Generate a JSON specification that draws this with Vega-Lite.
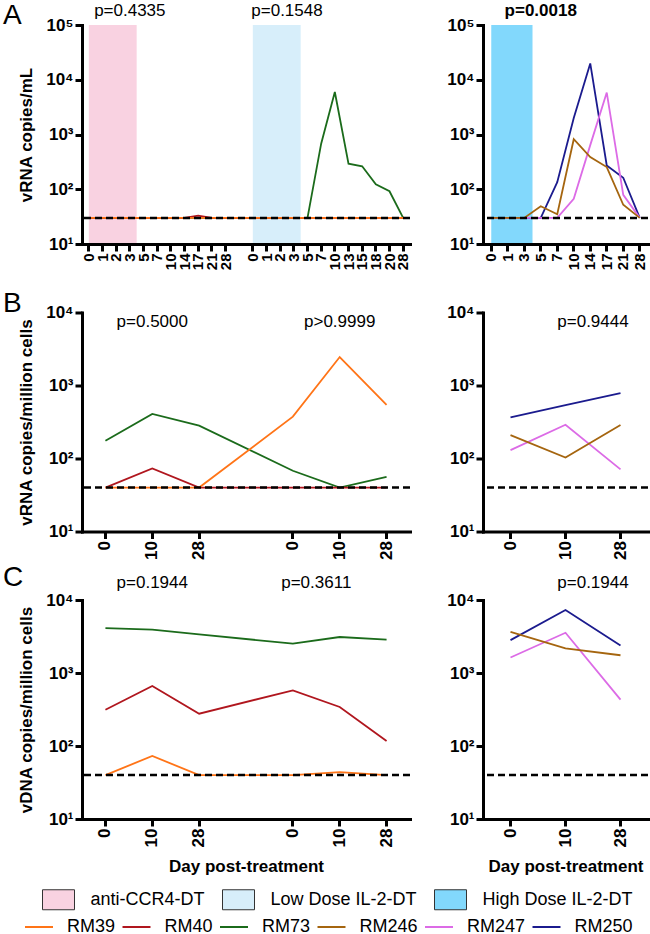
{
  "$schema": "https://vega.github.io/schema/vega-lite/v6.json",
  "padding": {"left": 3, "top": 2, "right": 0, "bottom": 0},
  "background": "white",
  "config": {
    "view": {"stroke": null},
    "font": "Liberation Sans",
    "axis": {"domainColor": "black", "domainWidth": 3, "domainCap": "square", "tickColor": "black", "tickWidth": 3, "tickSize": 7, "grid": false, "labelColor": "black", "labelFont": "Liberation Sans", "labelFontWeight": "bold", "labelPadding": 2, "labelOverlap": false, "titleFont": "Liberation Sans", "titleFontWeight": "bold", "titleFontSize": 17, "titleColor": "black"},
    "axisX": {"labelAngle": -90, "labelFontSize": 17, "titlePadding": 12},
    "axisY": {"labelFontSize": 17, "titlePadding": 10},
    "legend": {"labelFont": "Liberation Sans", "labelColor": "black", "labelFontSize": 18},
    "text": {"font": "Liberation Sans", "fontSize": 17, "color": "black", "align": "center", "baseline": "middle"}
  },
  "datasets": {
    "plasma": [
      {"panel": "left", "x": "CCR4 0", "animal": "RM73", "v": 30},
      {"panel": "left", "x": "CCR4 1", "animal": "RM73", "v": 30},
      {"panel": "left", "x": "CCR4 2", "animal": "RM73", "v": 30},
      {"panel": "left", "x": "CCR4 3", "animal": "RM73", "v": 30},
      {"panel": "left", "x": "CCR4 5", "animal": "RM73", "v": 30},
      {"panel": "left", "x": "CCR4 7", "animal": "RM73", "v": 30},
      {"panel": "left", "x": "CCR4 10", "animal": "RM73", "v": 30},
      {"panel": "left", "x": "CCR4 14", "animal": "RM73", "v": 30},
      {"panel": "left", "x": "CCR4 17", "animal": "RM73", "v": 30},
      {"panel": "left", "x": "CCR4 21", "animal": "RM73", "v": 30},
      {"panel": "left", "x": "CCR4 28", "animal": "RM73", "v": 30},
      {"panel": "left", "x": "LD 0", "animal": "RM73", "v": 30},
      {"panel": "left", "x": "LD 1", "animal": "RM73", "v": 30},
      {"panel": "left", "x": "LD 2", "animal": "RM73", "v": 30},
      {"panel": "left", "x": "LD 3", "animal": "RM73", "v": 30},
      {"panel": "left", "x": "LD 5", "animal": "RM73", "v": 30},
      {"panel": "left", "x": "LD 7", "animal": "RM73", "v": 680},
      {"panel": "left", "x": "LD 10", "animal": "RM73", "v": 5970},
      {"panel": "left", "x": "LD 13", "animal": "RM73", "v": 293},
      {"panel": "left", "x": "LD 15", "animal": "RM73", "v": 263},
      {"panel": "left", "x": "LD 18", "animal": "RM73", "v": 123},
      {"panel": "left", "x": "LD 20", "animal": "RM73", "v": 92},
      {"panel": "left", "x": "LD 28", "animal": "RM73", "v": 30},
      {"panel": "left", "x": "CCR4 0", "animal": "RM40", "v": 30},
      {"panel": "left", "x": "CCR4 1", "animal": "RM40", "v": 30},
      {"panel": "left", "x": "CCR4 2", "animal": "RM40", "v": 30},
      {"panel": "left", "x": "CCR4 3", "animal": "RM40", "v": 30},
      {"panel": "left", "x": "CCR4 5", "animal": "RM40", "v": 30},
      {"panel": "left", "x": "CCR4 7", "animal": "RM40", "v": 30},
      {"panel": "left", "x": "CCR4 10", "animal": "RM40", "v": 30},
      {"panel": "left", "x": "CCR4 14", "animal": "RM40", "v": 30},
      {"panel": "left", "x": "CCR4 17", "animal": "RM40", "v": 33},
      {"panel": "left", "x": "CCR4 21", "animal": "RM40", "v": 30},
      {"panel": "left", "x": "CCR4 28", "animal": "RM40", "v": 30},
      {"panel": "left", "x": "LD 0", "animal": "RM40", "v": 30},
      {"panel": "left", "x": "LD 1", "animal": "RM40", "v": 30},
      {"panel": "left", "x": "LD 2", "animal": "RM40", "v": 30},
      {"panel": "left", "x": "LD 3", "animal": "RM40", "v": 30},
      {"panel": "left", "x": "LD 5", "animal": "RM40", "v": 30},
      {"panel": "left", "x": "LD 7", "animal": "RM40", "v": 30},
      {"panel": "left", "x": "LD 10", "animal": "RM40", "v": 30},
      {"panel": "left", "x": "LD 13", "animal": "RM40", "v": 30},
      {"panel": "left", "x": "LD 15", "animal": "RM40", "v": 30},
      {"panel": "left", "x": "LD 18", "animal": "RM40", "v": 30},
      {"panel": "left", "x": "LD 20", "animal": "RM40", "v": 30},
      {"panel": "left", "x": "LD 28", "animal": "RM40", "v": 30},
      {"panel": "left", "x": "CCR4 0", "animal": "RM39", "v": 30},
      {"panel": "left", "x": "CCR4 1", "animal": "RM39", "v": 30},
      {"panel": "left", "x": "CCR4 2", "animal": "RM39", "v": 30},
      {"panel": "left", "x": "CCR4 3", "animal": "RM39", "v": 30},
      {"panel": "left", "x": "CCR4 5", "animal": "RM39", "v": 30},
      {"panel": "left", "x": "CCR4 7", "animal": "RM39", "v": 30},
      {"panel": "left", "x": "CCR4 10", "animal": "RM39", "v": 30},
      {"panel": "left", "x": "CCR4 14", "animal": "RM39", "v": 30},
      {"panel": "left", "x": "CCR4 17", "animal": "RM39", "v": 30},
      {"panel": "left", "x": "CCR4 21", "animal": "RM39", "v": 30},
      {"panel": "left", "x": "CCR4 28", "animal": "RM39", "v": 30},
      {"panel": "left", "x": "LD 0", "animal": "RM39", "v": 30},
      {"panel": "left", "x": "LD 1", "animal": "RM39", "v": 30},
      {"panel": "left", "x": "LD 2", "animal": "RM39", "v": 30},
      {"panel": "left", "x": "LD 3", "animal": "RM39", "v": 30},
      {"panel": "left", "x": "LD 5", "animal": "RM39", "v": 30},
      {"panel": "left", "x": "LD 7", "animal": "RM39", "v": 30},
      {"panel": "left", "x": "LD 10", "animal": "RM39", "v": 30},
      {"panel": "left", "x": "LD 13", "animal": "RM39", "v": 30},
      {"panel": "left", "x": "LD 15", "animal": "RM39", "v": 30},
      {"panel": "left", "x": "LD 18", "animal": "RM39", "v": 30},
      {"panel": "left", "x": "LD 20", "animal": "RM39", "v": 30},
      {"panel": "left", "x": "LD 28", "animal": "RM39", "v": 30},
      {"panel": "right", "x": "0", "animal": "RM250", "v": 30},
      {"panel": "right", "x": "1", "animal": "RM250", "v": 30},
      {"panel": "right", "x": "3", "animal": "RM250", "v": 30},
      {"panel": "right", "x": "5", "animal": "RM250", "v": 30},
      {"panel": "right", "x": "7", "animal": "RM250", "v": 135},
      {"panel": "right", "x": "10", "animal": "RM250", "v": 2000},
      {"panel": "right", "x": "14", "animal": "RM250", "v": 19900},
      {"panel": "right", "x": "17", "animal": "RM250", "v": 272},
      {"panel": "right", "x": "21", "animal": "RM250", "v": 162},
      {"panel": "right", "x": "28", "animal": "RM250", "v": 30},
      {"panel": "right", "x": "0", "animal": "RM247", "v": 30},
      {"panel": "right", "x": "1", "animal": "RM247", "v": 30},
      {"panel": "right", "x": "3", "animal": "RM247", "v": 30},
      {"panel": "right", "x": "5", "animal": "RM247", "v": 30},
      {"panel": "right", "x": "7", "animal": "RM247", "v": 30},
      {"panel": "right", "x": "10", "animal": "RM247", "v": 67},
      {"panel": "right", "x": "14", "animal": "RM247", "v": 640},
      {"panel": "right", "x": "17", "animal": "RM247", "v": 5840},
      {"panel": "right", "x": "21", "animal": "RM247", "v": 79},
      {"panel": "right", "x": "28", "animal": "RM247", "v": 30},
      {"panel": "right", "x": "0", "animal": "RM246", "v": 30},
      {"panel": "right", "x": "1", "animal": "RM246", "v": 30},
      {"panel": "right", "x": "3", "animal": "RM246", "v": 30},
      {"panel": "right", "x": "5", "animal": "RM246", "v": 49},
      {"panel": "right", "x": "7", "animal": "RM246", "v": 35},
      {"panel": "right", "x": "10", "animal": "RM246", "v": 820},
      {"panel": "right", "x": "14", "animal": "RM246", "v": 388},
      {"panel": "right", "x": "17", "animal": "RM246", "v": 254},
      {"panel": "right", "x": "21", "animal": "RM246", "v": 52},
      {"panel": "right", "x": "28", "animal": "RM246", "v": 30}
    ],
    "cellRNA": [
      {"panel": "left", "x": "CCR4 0", "animal": "RM73", "v": 175},
      {"panel": "left", "x": "CCR4 10", "animal": "RM73", "v": 407},
      {"panel": "left", "x": "CCR4 28", "animal": "RM73", "v": 282},
      {"panel": "left", "x": "LD 0", "animal": "RM73", "v": 68},
      {"panel": "left", "x": "LD 10", "animal": "RM73", "v": 40},
      {"panel": "left", "x": "LD 28", "animal": "RM73", "v": 56},
      {"panel": "left", "x": "CCR4 0", "animal": "RM40", "v": 40},
      {"panel": "left", "x": "CCR4 10", "animal": "RM40", "v": 73},
      {"panel": "left", "x": "CCR4 28", "animal": "RM40", "v": 40},
      {"panel": "left", "x": "LD 0", "animal": "RM40", "v": 40},
      {"panel": "left", "x": "LD 10", "animal": "RM40", "v": 40},
      {"panel": "left", "x": "LD 28", "animal": "RM40", "v": 40},
      {"panel": "left", "x": "CCR4 0", "animal": "RM39", "v": 40},
      {"panel": "left", "x": "CCR4 10", "animal": "RM39", "v": 40},
      {"panel": "left", "x": "CCR4 28", "animal": "RM39", "v": 40},
      {"panel": "left", "x": "LD 0", "animal": "RM39", "v": 374},
      {"panel": "left", "x": "LD 10", "animal": "RM39", "v": 2455},
      {"panel": "left", "x": "LD 28", "animal": "RM39", "v": 542},
      {"panel": "right", "x": "0", "animal": "RM250", "v": 367},
      {"panel": "right", "x": "10", "animal": "RM250", "v": 540},
      {"panel": "right", "x": "28", "animal": "RM250", "v": 785},
      {"panel": "right", "x": "0", "animal": "RM247", "v": 130},
      {"panel": "right", "x": "10", "animal": "RM247", "v": 290},
      {"panel": "right", "x": "28", "animal": "RM247", "v": 71},
      {"panel": "right", "x": "0", "animal": "RM246", "v": 209},
      {"panel": "right", "x": "10", "animal": "RM246", "v": 103},
      {"panel": "right", "x": "28", "animal": "RM246", "v": 288}
    ],
    "cellDNA": [
      {"panel": "left", "x": "CCR4 0", "animal": "RM73", "v": 4130},
      {"panel": "left", "x": "CCR4 10", "animal": "RM73", "v": 3930},
      {"panel": "left", "x": "CCR4 28", "animal": "RM73", "v": 3390},
      {"panel": "left", "x": "LD 0", "animal": "RM73", "v": 2520},
      {"panel": "left", "x": "LD 10", "animal": "RM73", "v": 3110},
      {"panel": "left", "x": "LD 28", "animal": "RM73", "v": 2860},
      {"panel": "left", "x": "CCR4 0", "animal": "RM40", "v": 314},
      {"panel": "left", "x": "CCR4 10", "animal": "RM40", "v": 664},
      {"panel": "left", "x": "CCR4 28", "animal": "RM40", "v": 277},
      {"panel": "left", "x": "LD 0", "animal": "RM40", "v": 579},
      {"panel": "left", "x": "LD 10", "animal": "RM40", "v": 342},
      {"panel": "left", "x": "LD 28", "animal": "RM40", "v": 117},
      {"panel": "left", "x": "CCR4 0", "animal": "RM39", "v": 40},
      {"panel": "left", "x": "CCR4 10", "animal": "RM39", "v": 73},
      {"panel": "left", "x": "CCR4 28", "animal": "RM39", "v": 40},
      {"panel": "left", "x": "LD 0", "animal": "RM39", "v": 40},
      {"panel": "left", "x": "LD 10", "animal": "RM39", "v": 44},
      {"panel": "left", "x": "LD 28", "animal": "RM39", "v": 40},
      {"panel": "right", "x": "0", "animal": "RM250", "v": 2820},
      {"panel": "right", "x": "10", "animal": "RM250", "v": 7290},
      {"panel": "right", "x": "28", "animal": "RM250", "v": 2380},
      {"panel": "right", "x": "0", "animal": "RM247", "v": 1630},
      {"panel": "right", "x": "10", "animal": "RM247", "v": 3560},
      {"panel": "right", "x": "28", "animal": "RM247", "v": 431},
      {"panel": "right", "x": "0", "animal": "RM246", "v": 3670},
      {"panel": "right", "x": "10", "animal": "RM246", "v": 2170},
      {"panel": "right", "x": "28", "animal": "RM246", "v": 1750}
    ]
  },
  "columns": 2,
  "spacing": {"row": 68.5, "column": 73},
  "bounds": "flush",
  "resolve": {"scale": {"stroke": "shared", "fill": "shared"}, "legend": {"stroke": "shared", "fill": "shared"}},
  "concat": [
    {
      "width": 328, "height": 219,
      "title": {"text": "A", "anchor": "start", "frame": "group", "dx": -79, "offset": -56, "baseline": "bottom", "fontSize": 28, "fontWeight": "normal", "font": "Liberation Sans", "color": "black"},
      "layer": [
        {
          "data": {"values": [{"treatment": "anti-CCR4-DT", "from": "CCR4 0", "to": "CCR4 3"}, {"treatment": "Low Dose IL-2-DT", "from": "LD 0", "to": "LD 3"}]},
          "mark": {"type": "rect"},
          "encoding": {
            "x": {"field": "from", "type": "nominal", "bandPosition": 0.5,
              "scale": {"type": "band", "paddingInner": 0, "paddingOuter": 0, "domain": ["CCR4 0", "CCR4 1", "CCR4 2", "CCR4 3", "CCR4 5", "CCR4 7", "CCR4 10", "CCR4 14", "CCR4 17", "CCR4 21", "CCR4 28", "gap", "LD 0", "LD 1", "LD 2", "LD 3", "LD 5", "LD 7", "LD 10", "LD 13", "LD 15", "LD 18", "LD 20", "LD 28"]},
              "axis": {"values": ["CCR4 0", "CCR4 1", "CCR4 2", "CCR4 3", "CCR4 5", "CCR4 7", "CCR4 10", "CCR4 14", "CCR4 17", "CCR4 21", "CCR4 28", "LD 0", "LD 1", "LD 2", "LD 3", "LD 5", "LD 7", "LD 10", "LD 13", "LD 15", "LD 18", "LD 20", "LD 28"], "labelExpr": "split(datum.value, ' ')[1]", "title": null, "labelFontSize": 15}},
            "x2": {"field": "to", "bandPosition": 1},
            "fill": {"field": "treatment", "type": "nominal",
              "scale": {"domain": ["anti-CCR4-DT", "Low Dose IL-2-DT", "High Dose IL-2-DT"], "range": ["#F9D2E1", "#D7EEFA", "#82D8FC"]},
              "legend": {"title": null, "orient": "none", "legendX": -34, "legendY": 864, "direction": "horizontal", "columns": 3, "symbolType": "M-1.6,-1H1.6V1H-1.6Z", "symbolSize": 400, "symbolStrokeColor": "#333333", "symbolStrokeWidth": 1, "symbolOpacity": 1, "labelFontSize": 18, "labelOffset": 21.5, "columnPadding": 15}}
          }
        },
        {
          "data": {"name": "plasma"},
          "transform": [{"filter": "datum.panel === 'left'"}],
          "mark": {"type": "line", "strokeWidth": 1.8},
          "encoding": {
            "x": {"field": "x", "type": "nominal", "bandPosition": 0.5},
            "y": {"field": "v", "type": "quantitative", "scale": {"type": "log", "domain": [10, 100000], "nice": false},
              "axis": {"values": [10, 100, 1000, 10000, 100000], "labelExpr": "'10' + ['⁰','¹','²','³','⁴','⁵'][round(log(datum.value)/LN10)]", "title": "vRNA copies/mL"}},
            "stroke": {"field": "animal", "type": "nominal",
              "scale": {"domain": ["RM39", "RM40", "RM73", "RM246", "RM247", "RM250"], "range": ["#FF7417", "#B0161E", "#1B6B1B", "#A5650F", "#DC6BE6", "#1B1B8E"]},
              "legend": {"title": null, "orient": "none", "legendX": -58, "legendY": 887, "direction": "horizontal", "columns": 6, "symbolType": "stroke", "symbolSize": 784, "symbolStrokeWidth": 2, "labelFontSize": 18, "labelOffset": 13, "columnPadding": 2.5}},
            "order": {"value": null}
          }
        },
        {
          "data": {"values": [{"lod": 30}]},
          "mark": {"type": "rule", "color": "black", "strokeWidth": 2.5, "strokeDash": [7, 4]},
          "encoding": {"y": {"field": "lod", "type": "quantitative"}}
        },
        {
          "data": {"values": [{"label": "p=0.4335", "at": "CCR4 3"}]},
          "mark": {"type": "text"},
          "encoding": {"x": {"field": "at", "type": "nominal", "bandPosition": 0.5}, "y": {"datum": 180000, "type": "quantitative"}, "text": {"field": "label"}}
        },
        {
          "data": {"values": [{"label": "p=0.1548", "at": "LD 2"}]},
          "mark": {"type": "text"},
          "encoding": {"x": {"field": "at", "type": "nominal", "bandPosition": 1}, "y": {"datum": 180000, "type": "quantitative"}, "text": {"field": "label"}}
        }
      ]
    },
    {
      "width": 165, "height": 219,
      "layer": [
        {
          "data": {"values": [{"treatment": "High Dose IL-2-DT", "from": "0", "to": "3"}]},
          "mark": {"type": "rect"},
          "encoding": {
            "x": {"field": "from", "type": "nominal", "bandPosition": 0.5,
              "scale": {"type": "band", "paddingInner": 0, "paddingOuter": 0, "domain": ["0", "1", "3", "5", "7", "10", "14", "17", "21", "28"]},
              "axis": {"title": null, "labelFontSize": 15}},
            "x2": {"field": "to", "bandPosition": 1},
            "fill": {"field": "treatment", "type": "nominal",
              "scale": {"domain": ["anti-CCR4-DT", "Low Dose IL-2-DT", "High Dose IL-2-DT"], "range": ["#F9D2E1", "#D7EEFA", "#82D8FC"]},
              "legend": {"title": null, "orient": "none", "legendX": -34, "legendY": 864, "direction": "horizontal", "columns": 3, "symbolType": "M-1.6,-1H1.6V1H-1.6Z", "symbolSize": 400, "symbolStrokeColor": "#333333", "symbolStrokeWidth": 1, "symbolOpacity": 1, "labelFontSize": 18, "labelOffset": 21.5, "columnPadding": 15}}
          }
        },
        {
          "data": {"name": "plasma"},
          "transform": [{"filter": "datum.panel === 'right'"}],
          "mark": {"type": "line", "strokeWidth": 1.8},
          "encoding": {
            "x": {"field": "x", "type": "nominal", "bandPosition": 0.5},
            "y": {"field": "v", "type": "quantitative", "scale": {"type": "log", "domain": [10, 100000], "nice": false},
              "axis": {"values": [10, 100, 1000, 10000, 100000], "labelExpr": "'10' + ['⁰','¹','²','³','⁴','⁵'][round(log(datum.value)/LN10)]", "title": null}},
            "stroke": {"field": "animal", "type": "nominal",
              "scale": {"domain": ["RM39", "RM40", "RM73", "RM246", "RM247", "RM250"], "range": ["#FF7417", "#B0161E", "#1B6B1B", "#A5650F", "#DC6BE6", "#1B1B8E"]},
              "legend": {"title": null, "orient": "none", "legendX": -58, "legendY": 887, "direction": "horizontal", "columns": 6, "symbolType": "stroke", "symbolSize": 784, "symbolStrokeWidth": 2, "labelFontSize": 18, "labelOffset": 13, "columnPadding": 2.5}},
            "order": {"value": null}
          }
        },
        {
          "data": {"values": [{"lod": 30}]},
          "mark": {"type": "rule", "color": "black", "strokeWidth": 2.5, "strokeDash": [7, 4]},
          "encoding": {"y": {"field": "lod", "type": "quantitative"}}
        },
        {
          "data": {"values": [{"label": "p=0.0018", "at": "5"}]},
          "mark": {"type": "text", "fontWeight": "bold"},
          "encoding": {"x": {"field": "at", "type": "nominal", "bandPosition": 0.5}, "y": {"datum": 180000, "type": "quantitative"}, "text": {"field": "label"}}
        }
      ]
    },
    {
      "width": 328, "height": 219,
      "title": {"text": "B", "anchor": "start", "frame": "group", "dx": -79, "offset": -42.5, "baseline": "bottom", "fontSize": 28, "fontWeight": "normal", "font": "Liberation Sans", "color": "black"},
      "layer": [
        {
          "data": {"name": "cellRNA"},
          "transform": [{"filter": "datum.panel === 'left'"}],
          "mark": {"type": "line", "strokeWidth": 1.8},
          "encoding": {
            "x": {"field": "x", "type": "nominal", "bandPosition": 0.5,
              "scale": {"type": "band", "paddingInner": 0, "paddingOuter": 0, "domain": ["CCR4 0", "CCR4 10", "CCR4 28", "gap", "LD 0", "LD 10", "LD 28"]},
              "axis": {"values": ["CCR4 0", "CCR4 10", "CCR4 28", "LD 0", "LD 10", "LD 28"], "labelExpr": "split(datum.value, ' ')[1]", "title": null}},
            "y": {"field": "v", "type": "quantitative", "scale": {"type": "log", "domain": [10, 10000], "nice": false},
              "axis": {"values": [10, 100, 1000, 10000], "labelExpr": "'10' + ['⁰','¹','²','³','⁴','⁵'][round(log(datum.value)/LN10)]", "title": "vRNA copies/million cells"}},
            "stroke": {"field": "animal", "type": "nominal",
              "scale": {"domain": ["RM39", "RM40", "RM73", "RM246", "RM247", "RM250"], "range": ["#FF7417", "#B0161E", "#1B6B1B", "#A5650F", "#DC6BE6", "#1B1B8E"]},
              "legend": {"title": null, "orient": "none", "legendX": -58, "legendY": 887, "direction": "horizontal", "columns": 6, "symbolType": "stroke", "symbolSize": 784, "symbolStrokeWidth": 2, "labelFontSize": 18, "labelOffset": 13, "columnPadding": 2.5}},
            "order": {"value": null}
          }
        },
        {
          "data": {"values": [{"lod": 40}]},
          "mark": {"type": "rule", "color": "black", "strokeWidth": 2.5, "strokeDash": [7, 4]},
          "encoding": {"y": {"field": "lod", "type": "quantitative"}}
        },
        {
          "data": {"values": [{"label": "p=0.5000", "at": "CCR4 10"}, {"label": "p>0.9999", "at": "LD 10"}]},
          "mark": {"type": "text"},
          "encoding": {"x": {"field": "at", "type": "nominal", "bandPosition": 0.5}, "y": {"datum": 7500, "type": "quantitative"}, "text": {"field": "label"}}
        }
      ]
    },
    {
      "width": 165, "height": 219,
      "layer": [
        {
          "data": {"name": "cellRNA"},
          "transform": [{"filter": "datum.panel === 'right'"}],
          "mark": {"type": "line", "strokeWidth": 1.8},
          "encoding": {
            "x": {"field": "x", "type": "nominal", "bandPosition": 0.5,
              "scale": {"type": "band", "paddingInner": 0, "paddingOuter": 0, "domain": ["0", "10", "28"]},
              "axis": {"title": null}},
            "y": {"field": "v", "type": "quantitative", "scale": {"type": "log", "domain": [10, 10000], "nice": false},
              "axis": {"values": [10, 100, 1000, 10000], "labelExpr": "'10' + ['⁰','¹','²','³','⁴','⁵'][round(log(datum.value)/LN10)]", "title": null}},
            "stroke": {"field": "animal", "type": "nominal",
              "scale": {"domain": ["RM39", "RM40", "RM73", "RM246", "RM247", "RM250"], "range": ["#FF7417", "#B0161E", "#1B6B1B", "#A5650F", "#DC6BE6", "#1B1B8E"]},
              "legend": {"title": null, "orient": "none", "legendX": -58, "legendY": 887, "direction": "horizontal", "columns": 6, "symbolType": "stroke", "symbolSize": 784, "symbolStrokeWidth": 2, "labelFontSize": 18, "labelOffset": 13, "columnPadding": 2.5}},
            "order": {"value": null}
          }
        },
        {
          "data": {"values": [{"lod": 40}]},
          "mark": {"type": "rule", "color": "black", "strokeWidth": 2.5, "strokeDash": [7, 4]},
          "encoding": {"y": {"field": "lod", "type": "quantitative"}}
        },
        {
          "data": {"values": [{"label": "p=0.9444", "at": "10"}]},
          "mark": {"type": "text"},
          "encoding": {"x": {"field": "at", "type": "nominal", "bandPosition": 1}, "y": {"datum": 7500, "type": "quantitative"}, "text": {"field": "label"}}
        }
      ]
    },
    {
      "width": 328, "height": 219,
      "title": {"text": "C", "anchor": "start", "frame": "group", "dx": -79, "offset": -45.8, "baseline": "bottom", "fontSize": 28, "fontWeight": "normal", "font": "Liberation Sans", "color": "black"},
      "layer": [
        {
          "data": {"name": "cellDNA"},
          "transform": [{"filter": "datum.panel === 'left'"}],
          "mark": {"type": "line", "strokeWidth": 1.8},
          "encoding": {
            "x": {"field": "x", "type": "nominal", "bandPosition": 0.5,
              "scale": {"type": "band", "paddingInner": 0, "paddingOuter": 0, "domain": ["CCR4 0", "CCR4 10", "CCR4 28", "gap", "LD 0", "LD 10", "LD 28"]},
              "axis": {"values": ["CCR4 0", "CCR4 10", "CCR4 28", "LD 0", "LD 10", "LD 28"], "labelExpr": "split(datum.value, ' ')[1]", "title": "Day post-treatment"}},
            "y": {"field": "v", "type": "quantitative", "scale": {"type": "log", "domain": [10, 10000], "nice": false},
              "axis": {"values": [10, 100, 1000, 10000], "labelExpr": "'10' + ['⁰','¹','²','³','⁴','⁵'][round(log(datum.value)/LN10)]", "title": "vDNA copies/million cells"}},
            "stroke": {"field": "animal", "type": "nominal",
              "scale": {"domain": ["RM39", "RM40", "RM73", "RM246", "RM247", "RM250"], "range": ["#FF7417", "#B0161E", "#1B6B1B", "#A5650F", "#DC6BE6", "#1B1B8E"]},
              "legend": {"title": null, "orient": "none", "legendX": -58, "legendY": 887, "direction": "horizontal", "columns": 6, "symbolType": "stroke", "symbolSize": 784, "symbolStrokeWidth": 2, "labelFontSize": 18, "labelOffset": 13, "columnPadding": 2.5}},
            "order": {"value": null}
          }
        },
        {
          "data": {"values": [{"lod": 40}]},
          "mark": {"type": "rule", "color": "black", "strokeWidth": 2.5, "strokeDash": [7, 4]},
          "encoding": {"y": {"field": "lod", "type": "quantitative"}}
        },
        {
          "data": {"values": [{"label": "p=0.1944", "at": "CCR4 10"}]},
          "mark": {"type": "text"},
          "encoding": {"x": {"field": "at", "type": "nominal", "bandPosition": 0.5}, "y": {"datum": 17000, "type": "quantitative"}, "text": {"field": "label"}}
        },
        {
          "data": {"values": [{"label": "p=0.3611", "at": "LD 0"}]},
          "mark": {"type": "text"},
          "encoding": {"x": {"field": "at", "type": "nominal", "bandPosition": 1}, "y": {"datum": 17000, "type": "quantitative"}, "text": {"field": "label"}}
        }
      ]
    },
    {
      "width": 165, "height": 219,
      "layer": [
        {
          "data": {"name": "cellDNA"},
          "transform": [{"filter": "datum.panel === 'right'"}],
          "mark": {"type": "line", "strokeWidth": 1.8},
          "encoding": {
            "x": {"field": "x", "type": "nominal", "bandPosition": 0.5,
              "scale": {"type": "band", "paddingInner": 0, "paddingOuter": 0, "domain": ["0", "10", "28"]},
              "axis": {"title": "Day post-treatment"}},
            "y": {"field": "v", "type": "quantitative", "scale": {"type": "log", "domain": [10, 10000], "nice": false},
              "axis": {"values": [10, 100, 1000, 10000], "labelExpr": "'10' + ['⁰','¹','²','³','⁴','⁵'][round(log(datum.value)/LN10)]", "title": null}},
            "stroke": {"field": "animal", "type": "nominal",
              "scale": {"domain": ["RM39", "RM40", "RM73", "RM246", "RM247", "RM250"], "range": ["#FF7417", "#B0161E", "#1B6B1B", "#A5650F", "#DC6BE6", "#1B1B8E"]},
              "legend": {"title": null, "orient": "none", "legendX": -58, "legendY": 887, "direction": "horizontal", "columns": 6, "symbolType": "stroke", "symbolSize": 784, "symbolStrokeWidth": 2, "labelFontSize": 18, "labelOffset": 13, "columnPadding": 2.5}},
            "order": {"value": null}
          }
        },
        {
          "data": {"values": [{"lod": 40}]},
          "mark": {"type": "rule", "color": "black", "strokeWidth": 2.5, "strokeDash": [7, 4]},
          "encoding": {"y": {"field": "lod", "type": "quantitative"}}
        },
        {
          "data": {"values": [{"label": "p=0.1944", "at": "10"}]},
          "mark": {"type": "text"},
          "encoding": {"x": {"field": "at", "type": "nominal", "bandPosition": 1}, "y": {"datum": 17000, "type": "quantitative"}, "text": {"field": "label"}}
        }
      ]
    }
  ]
}
